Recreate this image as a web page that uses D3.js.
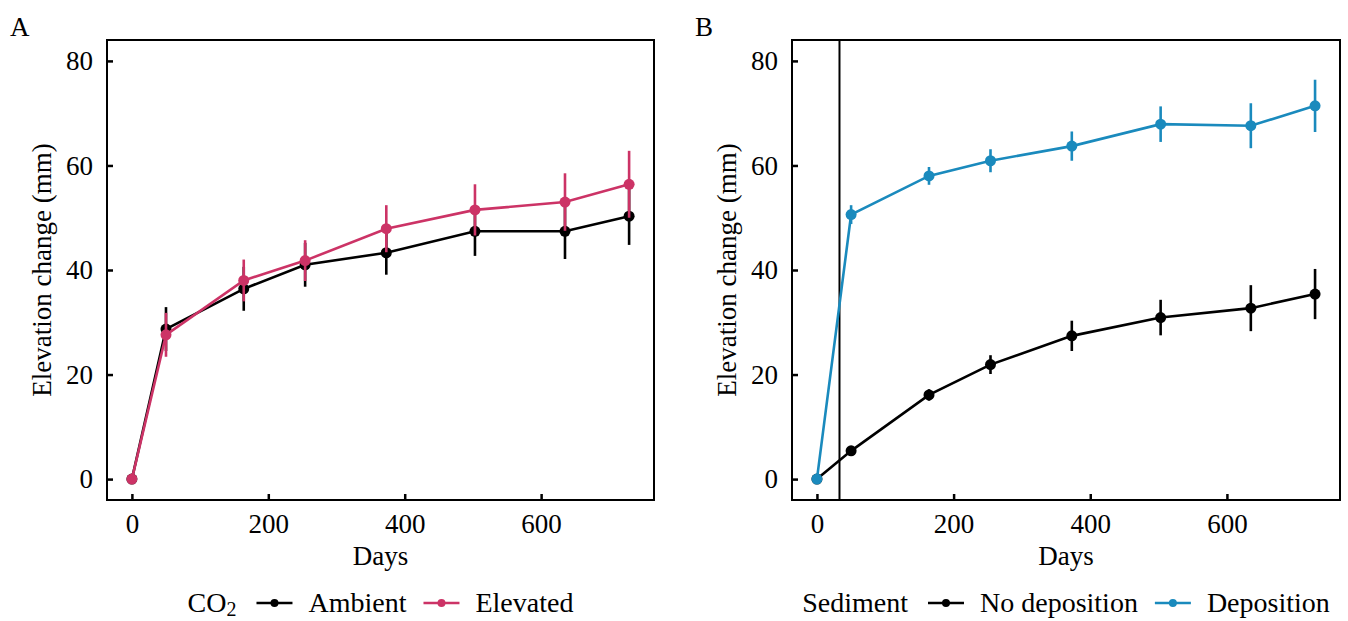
<!DOCTYPE html>
<html>
<head>
<meta charset="utf-8">
<script src="https://cdn.jsdelivr.net/npm/d3@7"></script>
<style>
  body { margin: 0; background: #fff; }
  svg { display: block; font-family: "Liberation Serif", "Times New Roman", serif; }
</style>
</head>
<body>
<svg id="chart" width="1348" height="621"></svg>
<script>
const days = [0, 50, 164, 254, 373, 503, 635, 729];

// panel A: CO2 treatment
const ambient = [0, 28.7, 36.4, 41.0, 43.3, 47.4, 47.4, 50.3];
const ambientSE = [0, 4.2, 4.2, 4.2, 4.2, 4.7, 5.3, 5.5];
const elevated = [0, 27.6, 38.0, 41.8, 47.9, 51.5, 53.0, 56.4];
const elevatedSE = [0, 4.2, 4.0, 3.9, 4.5, 4.9, 5.5, 6.4];

// panel B: sediment deposition
const noDeposition = [0, 5.4, 16.1, 21.9, 27.4, 30.9, 32.7, 35.4];
const noDepositionSE = [0, 0.5, 1.1, 1.8, 2.9, 3.4, 4.4, 4.8];
const deposition = [0, 50.6, 58.0, 60.9, 63.7, 67.9, 67.6, 71.4];
const depositionSE = [0, 1.8, 1.7, 2.2, 2.8, 3.4, 4.3, 5.0];
const depositionDay = 33;

const xTicks = [0, 200, 400, 600];
const yTicks = [0, 20, 40, 60, 80];

const svg = d3.select("#chart");
const pTop = 40, pBottom = 500;
const fs = 27;

const x = d3.scaleLinear().domain([-36.5, 765.5]);
const y = d3.scaleLinear().domain([-4, 84]).range([pBottom, pTop]);

function toRows(vals, se){
  return days.map((d, i) => ({ day: d, v: vals[i], se: se[i] }));
}

function styleAxis(a){
  a.attr("font-family", null).attr("font-size", null);
  a.select(".domain").remove();
  a.selectAll("line").attr("stroke", "#000").attr("stroke-width", 2.5);
  a.selectAll("text").attr("font-size", fs).attr("fill", "#000");
}

function drawPanel(left, right, letter, series, legendTitle, vline){
  const xs = x.copy().range([left, right]);
  const g = svg.append("g");

  // ticks inside the panel
  g.append("g")
    .attr("transform", `translate(0,${pBottom})`)
    .call(d3.axisBottom(xs).tickValues(xTicks).tickSizeInner(-6).tickSizeOuter(0).tickPadding(14))
    .call(styleAxis);

  g.append("g")
    .attr("transform", `translate(${left},0)`)
    .call(d3.axisLeft(y).tickValues(yTicks).tickSizeInner(-6).tickSizeOuter(0).tickPadding(14))
    .call(styleAxis);

  if(vline != null){
    g.append("line")
      .attr("x1", xs(vline)).attr("x2", xs(vline))
      .attr("y1", pTop).attr("y2", pBottom)
      .attr("stroke", "#000").attr("stroke-width", 2);
  }

  const line = d3.line().x(d => xs(d.day)).y(d => y(d.v));

  series.forEach(s => {
    const rows = toRows(s.vals, s.se);
    const sg = g.append("g");
    sg.selectAll("line.err")
      .data(rows.filter(d => d.se > 0))
      .join("line")
      .attr("class", "err")
      .attr("x1", d => xs(d.day)).attr("x2", d => xs(d.day))
      .attr("y1", d => y(d.v - d.se)).attr("y2", d => y(d.v + d.se))
      .attr("stroke", s.color).attr("stroke-width", 2.6);
    sg.append("path")
      .datum(rows)
      .attr("fill", "none")
      .attr("stroke", s.color)
      .attr("stroke-width", 2.6)
      .attr("d", line);
    sg.selectAll("circle")
      .data(rows)
      .join("circle")
      .attr("cx", d => xs(d.day))
      .attr("cy", d => y(d.v))
      .attr("r", 5.5)
      .attr("fill", s.color);
  });

  // panel border
  g.append("rect")
    .attr("x", left).attr("y", pTop)
    .attr("width", right - left).attr("height", pBottom - pTop)
    .attr("fill", "none").attr("stroke", "#000").attr("stroke-width", 2);

  // axis titles
  g.append("text")
    .attr("x", (left + right) / 2).attr("y", 565)
    .attr("text-anchor", "middle").attr("font-size", fs)
    .text("Days");
  g.append("text")
    .attr("transform", `translate(${left - 56},${(pTop + pBottom) / 2}) rotate(-90)`)
    .attr("text-anchor", "middle").attr("font-size", fs)
    .text("Elevation change (mm)");

  g.append("text")
    .attr("x", left - 97).attr("y", 36)
    .attr("font-size", fs)
    .text(letter);

  // legend, centred under the panel
  const lg = g.append("g").attr("font-size", 28);
  let cx = 0;
  const ly = 612;
  const title = lg.append("text").attr("x", cx).attr("y", ly);
  legendTitle(title);
  cx += title.node().getComputedTextLength() + 20;
  series.forEach(s => {
    lg.append("line")
      .attr("x1", cx).attr("x2", cx + 36)
      .attr("y1", ly - 9).attr("y2", ly - 9)
      .attr("stroke", s.color).attr("stroke-width", 2.6);
    lg.append("circle")
      .attr("cx", cx + 18).attr("cy", ly - 9).attr("r", 4)
      .attr("fill", s.color);
    cx += 52;
    const t = lg.append("text").attr("x", cx).attr("y", ly).text(s.name);
    cx += t.node().getComputedTextLength() + 17;
  });
  const w = cx - 17;
  lg.attr("transform", `translate(${(left + right) / 2 - w / 2},0)`);
}

drawPanel(107, 654, "A", [
  { name: "Ambient", vals: ambient, se: ambientSE, color: "#000000" },
  { name: "Elevated", vals: elevated, se: elevatedSE, color: "#cc3366" }
], t => {
  t.append("tspan").text("CO");
  t.append("tspan").attr("font-size", 20).attr("dy", 4).text("2");
}, null);

drawPanel(792, 1340, "B", [
  { name: "No deposition", vals: noDeposition, se: noDepositionSE, color: "#000000" },
  { name: "Deposition", vals: deposition, se: depositionSE, color: "#1a8abd" }
], t => t.text("Sediment"), depositionDay);
</script>
</body>
</html>
